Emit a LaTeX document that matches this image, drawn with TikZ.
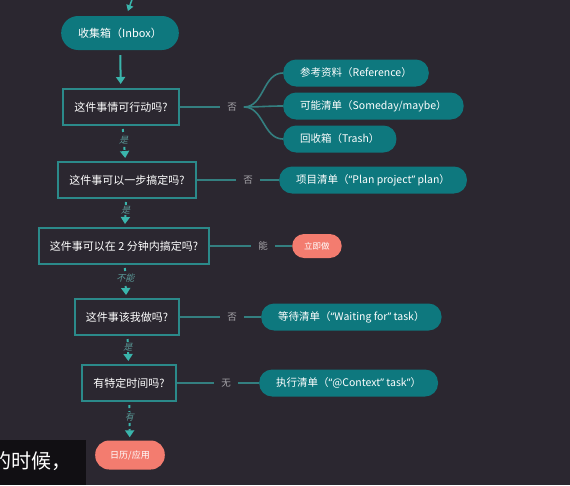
\documentclass[tikz,border=0pt]{standalone}
\usepackage{fontspec}
\setmainfont{Noto Sans CJK SC}
\newfontfamily\slantcjk[FakeSlant=0.25]{Noto Sans CJK SC}
\newfontfamily\latinq{Noto Sans}
\usepackage{xcolor}
\usetikzlibrary{arrows.meta}
\newcommand\oq{{\latinq “}}
\newcommand\cq{{\latinq ”}}
\definecolor{BgDark}{HTML}{2B2730}
\definecolor{PillTeal}{HTML}{0E787E}
\definecolor{BoxTeal}{HTML}{2B8A8A}
\definecolor{ArrowTeal}{HTML}{3AB5AC}
\definecolor{LineTeal}{HTML}{347F80}
\definecolor{SalmonPink}{HTML}{F37C6F}
\definecolor{LabelGrey}{HTML}{A8A6AB}
\definecolor{StepGrey}{HTML}{5A9896}
\definecolor{SubBlack}{HTML}{110F13}
\tikzset{%
  QuestionBox/.style={draw=BoxTeal,line width=2pt,minimum height=36pt,inner xsep=11pt,
    text=white,font=\fontsize{11}{13}\selectfont},
  ListPill/.style={fill=PillTeal,rounded corners=13pt,minimum height=27pt,inner xsep=17pt,
    text=white,font=\fontsize{10.5}{12}\selectfont,anchor=west},
  ActPill/.style={fill=SalmonPink,rounded corners=12pt,minimum height=24pt,inner xsep=12pt,
    text=white,font=\fontsize{8.5}{10}\selectfont},
  AnswerLabel/.style={text=LabelGrey,inner xsep=7pt,font=\fontsize{9.5}{10}\selectfont},
  StepLabel/.style={text=StepGrey,fill=BgDark,inner sep=1pt,font=\slantcjk\fontsize{9}{10}\selectfont},
  FlowArrow/.style={draw=ArrowTeal,line width=2pt,-{Triangle[width=9pt,length=7pt]}},
  StepArrow/.style={FlowArrow,dash pattern=on 3pt off 3pt,shorten <=3pt,shorten >=3pt},
  BranchLine/.style={draw=LineTeal,line width=1.6pt}
}

\begin{document}
\begin{tikzpicture}[x=1pt,y=-1pt]
  \fill[BgDark] (0,0) rectangle (570,485);
  \clip (0,0) rectangle (570,485);

  \coordinate (topin) at (134,-6);
  \node[ListPill,anchor=center,minimum height=34pt,rounded corners=17pt,inner xsep=17pt,
    font=\fontsize{11}{13}\selectfont] (inbox) at (120,33) {收集箱（Inbox）};
  \node[QuestionBox] (q1) at (121,107) {这件事情可行动吗?};
  \node[QuestionBox] (q2) at (127,180) {这件事可以一步搞定吗?};
  \node[QuestionBox] (q3) at (124,246) {这件事可以在 2 分钟内搞定吗?};
  \node[QuestionBox] (q4) at (127,317) {这件事该我做吗?};
  \node[QuestionBox] (q5) at (129,383) {有特定时间吗?};
  \node[ActPill,minimum height=29pt,rounded corners=14pt,inner xsep=15pt,
    font=\fontsize{9}{10}\selectfont] (calendar) at (130,455) {日历/应用};

  \draw[FlowArrow,line width=1.5pt,-{Triangle[width=7pt,length=6pt]},shorten >=5pt] (topin) -- (inbox);
  \draw[FlowArrow,shorten <=5pt,shorten >=4pt] (inbox) -- (q1);
  \draw[StepArrow] (q1) -- node[StepLabel,pos=0.4]{是} (q2);
  \draw[StepArrow] (q2) -- node[StepLabel,pos=0.4]{是} (q3);
  \draw[StepArrow] (q3) -- node[StepLabel,pos=0.4]{不能} (q4);
  \draw[StepArrow] (q4) -- node[StepLabel,pos=0.4]{是} (q5);
  \draw[StepArrow] (q5) -- node[StepLabel,pos=0.4]{有} (calendar);

  \node[AnswerLabel] (no1) at (232,107) {否};
  \node[ListPill] (reference) at (283,73) {参考资料（Reference）};
  \node[ListPill] (someday) at (283,106) {可能清单（Someday/maybe）};
  \node[ListPill] (trash) at (283,139) {回收箱（Trash）};
  \draw[BranchLine] (q1) -- (no1);
  \foreach \target in {reference,someday,trash}
    \draw[BranchLine] (no1.east) to[out=0,in=180] (\target.west);

  \node[AnswerLabel] (no2) at (248,180) {否};
  \node[ListPill] (plan) at (279,180) {项目清单（\oq Plan project\cq\ plan）};
  \draw[BranchLine] (q2) -- (no2) -- (plan);

  \node[AnswerLabel] (can) at (263,246) {能};
  \node[ActPill,anchor=west] (donow) at (292,246) {立即做};
  \draw[BranchLine] (q3) -- (can) -- (donow);

  \node[AnswerLabel] (no4) at (232,317) {否};
  \node[ListPill] (waiting) at (261,317) {等待清单（\oq Waiting for\cq\ task）};
  \draw[BranchLine] (q4) -- (no4) -- (waiting);

  \node[AnswerLabel] (none) at (226,383) {无};
  \node[ListPill] (context) at (259,383) {执行清单（\oq @Context\cq\ task\cq）};
  \draw[BranchLine] (q5) -- (none) -- (context);

  \fill[SubBlack] (0,440) rectangle (86,485);
  \node[text=white,anchor=west,inner sep=0pt,font=\fontsize{20}{22}\selectfont] (subtitle)
    at (-9,461) {的时候，};
\end{tikzpicture}
\end{document}
